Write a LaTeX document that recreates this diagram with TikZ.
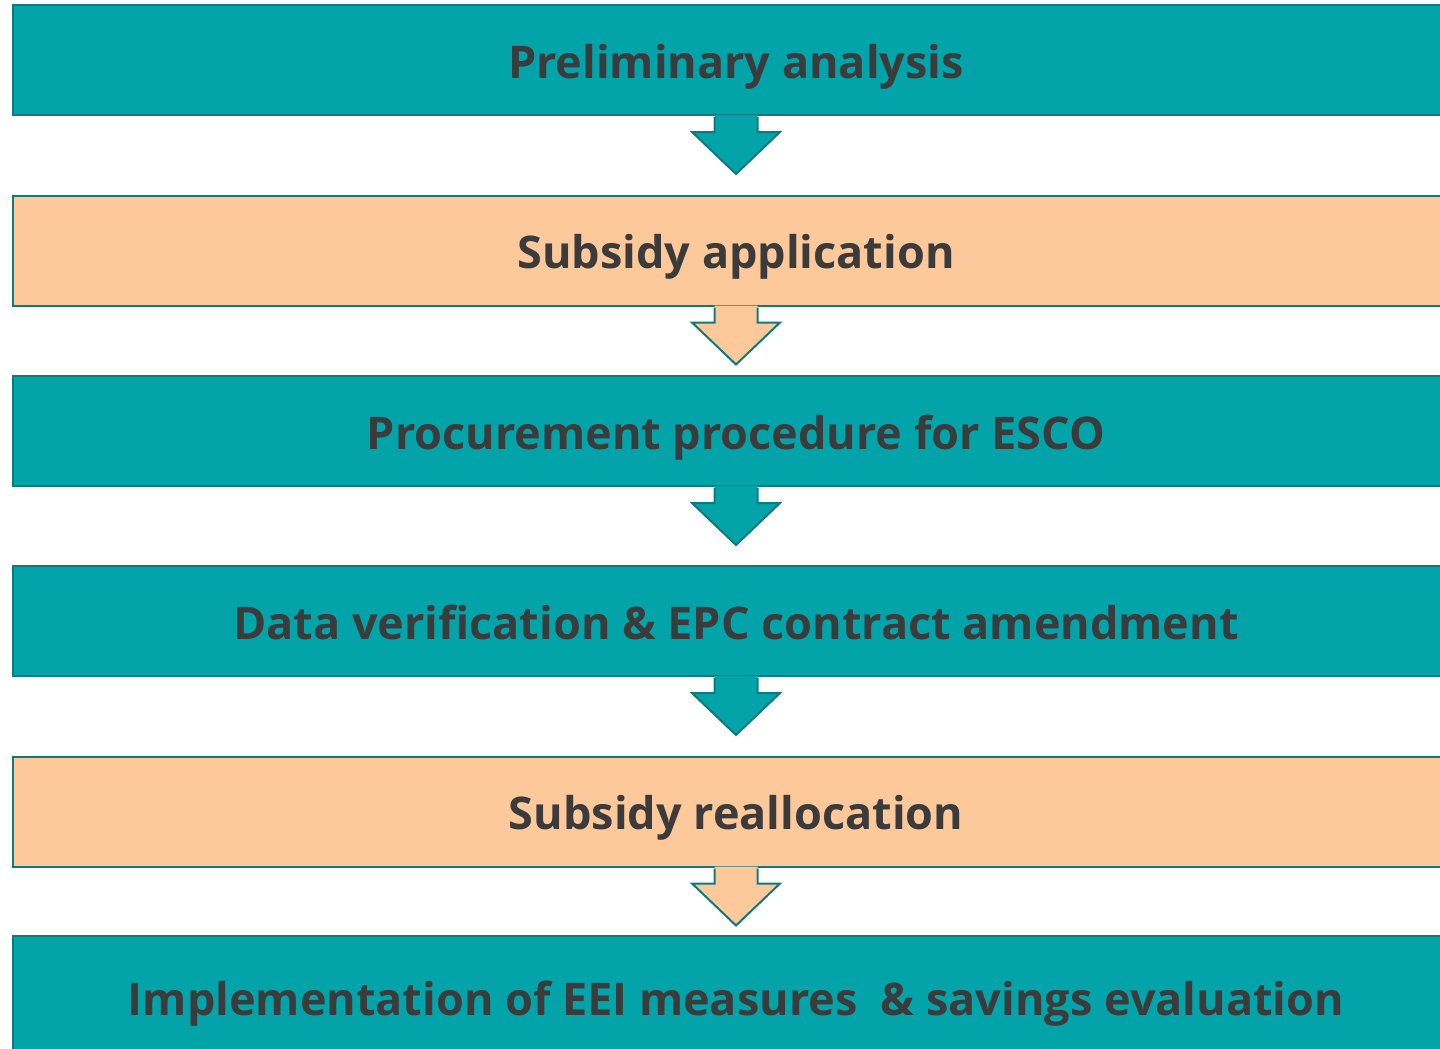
\documentclass[tikz,border=0pt]{standalone}
\usepackage{fontspec}
\setmainfont{Open Sans}
\usetikzlibrary{calc}
\definecolor{tealbox}{HTML}{02A3A9}
\definecolor{tealline}{HTML}{0D7B7E}
\definecolor{peachbox}{HTML}{FDC99B}
\definecolor{darktext}{HTML}{3B3B3B}

\tikzset{
  stage/.style={draw=tealline, line width=2pt, rectangle, minimum width=1446pt,
    minimum height=110pt, text=darktext, text height=36pt, text depth=0pt,
    font=\fontsize{45}{50}\selectfont\bfseries},
  tealstage/.style={stage, fill=tealbox},
  peachstage/.style={stage, fill=peachbox}
}

% arrow under a box: #1 node, #2 fill colour
\newcommand{\flowarrow}[2]{
  \fill[#2] ($(#1.south)+(-21.5,-1)$) -- ++(0,17) -- ++(-22.5,0) -- ++(44,42)
    -- ++(44,-42) -- ++(-22.5,0) -- ++(0,-17) -- cycle;
  \draw[tealline, line width=2pt, line join=miter] ($(#1.south)+(-21.5,1)$) -- ++(0,15)
    -- ++(-22.5,0) -- ++(44,42) -- ++(44,-42) -- ++(-22.5,0) -- ++(0,-15);
}

\begin{document}
\begin{tikzpicture}[x=1pt, y=-1pt]

\useasboundingbox (0,0) rectangle (1440,1049);

\node[tealstage]  at (736, 60)  (prelim)    {Preliminary analysis};
\node[peachstage] at (736, 250.5) (subsidy)   {Subsidy application};
\node[tealstage]  at (736, 431) (procure)   {Procurement procedure for ESCO};
\node[tealstage]  at (736, 621) (verify)    {Data verification \& EPC contract amendment};
\node[peachstage] at (736, 811.5) (realloc)   {Subsidy reallocation};
\node[tealstage, minimum height=130pt, text height=28pt]  at (736, 1001) (implement) {Implementation of EEI measures\ \ \& savings evaluation};

\flowarrow{prelim}{tealbox}
\flowarrow{subsidy}{peachbox}
\flowarrow{procure}{tealbox}
\flowarrow{verify}{tealbox}
\flowarrow{realloc}{peachbox}

\end{tikzpicture}
\end{document}
